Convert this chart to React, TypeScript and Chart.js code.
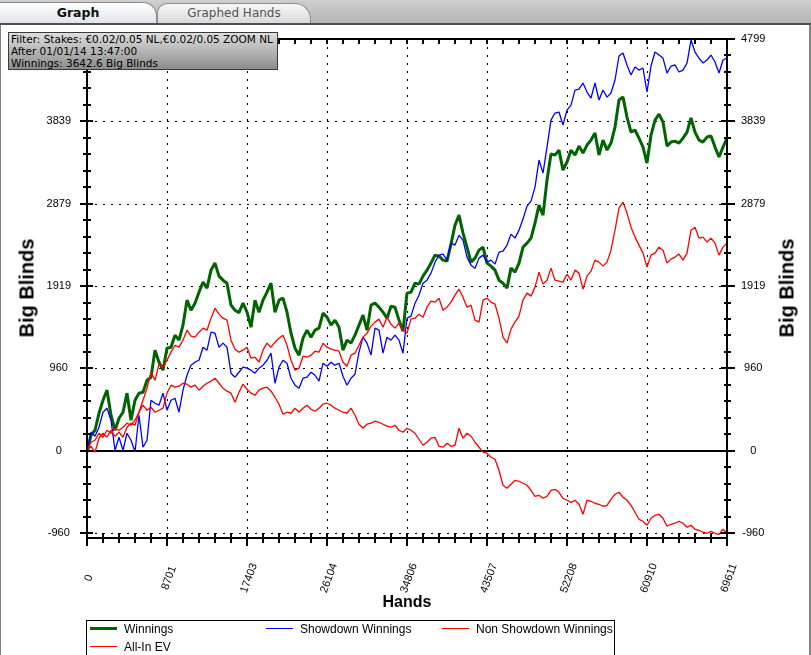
import React, { useEffect, useRef } from 'react';
import { Chart, registerables } from 'chart.js';

Chart.register(...registerables);

// ---- data (hands on x, big blinds on y) ----
const hands = [
  0, 435, 870, 1305, 1740, 2175, 2610, 3045, 3481, 3916,
  4351, 4786, 5221, 5656, 6091, 6526, 6961, 7396, 7831, 8266,
  8701, 9136, 9571, 10006, 10441, 10876, 11311, 11746, 12182, 12617,
  13052, 13487, 13922, 14357, 14792, 15227, 15662, 16097, 16532, 16967,
  17403, 17838, 18273, 18708, 19143, 19578, 20013, 20448, 20884, 21319,
  21754, 22189, 22624, 23059, 23494, 23929, 24364, 24799, 25234, 25669,
  26104, 26539, 26974, 27409, 27844, 28279, 28714, 29149, 29585, 30020,
  30455, 30890, 31325, 31760, 32195, 32630, 33065, 33500, 33935, 34370,
  34806, 35241, 35676, 36111, 36546, 36981, 37416, 37851, 38287, 38722,
  39157, 39592, 40027, 40462, 40897, 41332, 41767, 42202, 42637, 43072,
  43507, 43942, 44377, 44812, 45247, 45682, 46117, 46552, 46988, 47423,
  47858, 48293, 48728, 49163, 49598, 50033, 50468, 50903, 51338, 51773,
  52208, 52643, 53078, 53513, 53948, 54383, 54818, 55253, 55689, 56124,
  56559, 56994, 57429, 57864, 58299, 58734, 59169, 59604, 60039, 60474,
  60910, 61345, 61780, 62215, 62650, 63085, 63520, 63955, 64391, 64826,
  65261, 65696, 66131, 66566, 67001, 67436, 67871, 68306, 68741, 69176,
  69611,
];

const winnings = [
  -17, 181, 239, 437, 589, 706, 414, 239, 379, 449,
  671, 356, 589, 671, 682, 822, 857, 1172, 1032, 939,
  1195, 1207, 1347, 1289, 1464, 1755, 1638, 1720, 1848, 1965,
  1895, 2105, 2187, 2035, 1988, 1953, 1697, 1638, 1610, 1720,
  1615, 1440, 1755, 1615, 1755, 1848, 1953, 1615, 1755, 1778,
  1615, 1370, 1195, 1114, 1312, 1405, 1324, 1405, 1429, 1604,
  1557, 1464, 1522, 1440, 1172, 1289, 1254, 1347, 1464, 1580,
  1405, 1697, 1720, 1673, 1615, 1545, 1685, 1673, 1522, 1394,
  1837, 1848, 1953, 1942, 2035, 2105, 2187, 2280, 2268, 2222,
  2210, 2408, 2630, 2746, 2536, 2373, 2198, 2245, 2338, 2373,
  2187, 2152, 2105, 1988, 1953, 1895, 2128, 2082, 2187, 2373,
  2420, 2478, 2653, 2863, 2746, 3155, 3458, 3446, 3504, 3271,
  3365, 3504, 3446, 3551, 3469, 3563, 3621, 3703, 3446, 3621,
  3504, 3586, 3773, 4088, 4122, 3889, 3714, 3738, 3644, 3539,
  3353, 3679, 3854, 3924, 3831, 3551, 3598, 3609, 3586, 3644,
  3714, 3878, 3714, 3621, 3598, 3656, 3668, 3539, 3423, 3539,
  3643,
];

const showdownWinnings = [
  0, 216, 169, 274, 449, 496, 356, 6, 157, 6,
  204, 122, -12, 414, 41, 122, 589, 554, 531, 671,
  472, 589, 612, 449, 706, 880, 997, 1032, 1055, 1207,
  1172, 1382, 1370, 1207, 1254, 1207, 904, 857, 915, 974,
  962, 939, 904, 962, 997, 1055, 1137, 787, 974, 1055,
  1020, 845, 764, 729, 845, 857, 915, 880, 811, 1020,
  985, 1032, 997, 1020, 869, 764, 845, 892, 1149, 1324,
  1254, 1114, 1429, 1405, 1137, 1324, 1289, 1347, 1289, 1137,
  1545, 1569, 1720, 1813, 1953, 1988, 2070, 2198, 2280, 2292,
  2222, 2420, 2397, 2513, 2455, 2257, 2163, 2128, 2245, 2280,
  2198, 2222, 2175, 2315, 2327, 2397, 2525, 2478, 2571, 2700,
  2851, 2910, 3073, 3388, 3236, 3539, 3854, 3936, 3948, 3796,
  3971, 4029, 4204, 4216, 4286, 4181, 4111, 4286, 4088, 4204,
  4122, 4169, 4321, 4601, 4636, 4496, 4379, 4472, 4437, 4461,
  4181, 4484, 4647, 4612, 4577, 4402, 4484, 4496, 4414, 4437,
  4519, 4787, 4647, 4577, 4519, 4554, 4612, 4531, 4402, 4554,
  4577,
];

const nonShowdownWinnings = [
  0, 99, 122, 204, 157, 239, 204, 262, 239, 274,
  321, 297, 356, 449, 531, 472, 507, 449, 472, 496,
  671, 764, 741, 752, 787, 776, 741, 764, 706, 752,
  787, 811, 845, 787, 729, 694, 671, 566, 682, 776,
  717, 671, 647, 706, 729, 741, 694, 624, 542, 426,
  449, 437, 496, 449, 496, 531, 484, 461, 496, 542,
  554, 531, 496, 472, 449, 437, 496, 414, 309, 262,
  309, 321, 344, 332, 309, 286, 274, 297, 239, 216,
  262, 239, 204, 134, 64, 99, 146, 157, 52, 41,
  87, 52, 64, 262, 146, 204, 169, 99, 41, -17,
  -29, -76, -99, -227, -402, -437, -391, -344, -356, -379,
  -402, -461, -531, -519, -554, -531, -461, -449, -484, -554,
  -577, -601, -577, -624, -741, -577, -589, -612, -624, -647,
  -636, -566, -507, -484, -542, -577, -636, -717, -799, -822,
  -869, -787, -752, -741, -787, -880, -857, -845, -822, -845,
  -892, -869, -915, -927, -950, -962, -939, -962, -974, -915,
  -962,
];

const allInEV = [
  0, 52, -17, 146, 204, 157, 239, 169, 216, 157,
  274, 321, 297, 449, 589, 729, 915, 822, 1009, 974,
  1055, 1149, 1230, 1207, 1289, 1405, 1335, 1324, 1382, 1429,
  1405, 1545, 1662, 1592, 1545, 1522, 1289, 1184, 1149, 1172,
  1207, 1079, 1090, 1032, 1172, 1254, 1207, 1265, 1312, 1347,
  1230, 1055, 939, 962, 1102, 1090, 1114, 1160, 1149, 1254,
  1207, 1184, 1172, 1160, 1032, 985, 1114, 1137, 1230, 1324,
  1370, 1452, 1499, 1534, 1440, 1557, 1475, 1429, 1487, 1405,
  1370, 1534, 1545, 1592, 1557, 1673, 1743, 1732, 1778, 1638,
  1673, 1732, 1813, 1883, 1790, 1673, 1697, 1522, 1499, 1755,
  1778, 1732, 1708, 1545, 1324, 1254, 1417, 1499, 1569, 1755,
  1837, 1802, 1907, 2082, 1942, 1988, 2128, 1988, 1977, 1965,
  2058, 1988, 2105, 2070, 1883, 2035, 2093, 2222, 2198, 2152,
  2198, 2338, 2571, 2828, 2898, 2770, 2606, 2490, 2397, 2303,
  2140, 2280, 2303, 2373, 2338, 2187, 2233, 2257, 2292, 2222,
  2303, 2571, 2606, 2478, 2490, 2432, 2478, 2420, 2280, 2373,
  2420,
];

const xTickValues = [0, 8701.375, 17402.75, 26104.125, 34805.5, 43506.875, 52208.25, 60909.625, 69611];
const xTickLabels = ['0', '8701', '17403', '26104', '34806', '43507', '52208', '60910', '69611'];
const yTickValues = [-959.8, 0, 959.8, 1919.6, 2879.4, 3839.2, 4799];
const yTickLabels = ['-960', '0', '960', '1919', '2879', '3839', '4799'];
const xMin = 0;
const xMax = 69611;
const yMin = -1017;
const yMax = 4799;

const seriesLabels = ['Winnings', 'Showdown Winnings', 'Non Showdown Winnings', 'All-In EV'];
const seriesColors = ['#006400', '#0000ff', '#ff0000', '#ff0000'];
const seriesWidths = [3, 1.3, 1.3, 1.3];
const seriesValues = [winnings, showdownWinnings, nonShowdownWinnings, allInEV];
const seriesOrder = [4, 3, 2, 1];

const filterLines = [
  'Filter: Stakes: €0.02/0.05 NL,€0.02/0.05 ZOOM NL',
  'After 01/01/14 13:47:00',
  'Winnings: 3642.6 Big Blinds',
];

const SANS = '"Liberation Sans", Arial, sans-serif';
const TAHOMA = '"DejaVu Sans", Verdana, sans-serif';

const framePlugin = {
  id: 'frameAndTicks',
  beforeDatasetsDraw(chart: any) {
    const { ctx, chartArea: a } = chart;
    const xs = chart.scales.x;
    const ys = chart.scales.y;
    ctx.save();
    ctx.strokeStyle = '#000';
    ctx.lineWidth = 1;
    ctx.setLineDash([2, 6]);
    xTickValues.forEach((v) => {
      const px = Math.round(xs.getPixelForValue(v)) + 0.5;
      if (px <= a.left + 2 || px >= a.right - 2) return;
      ctx.beginPath();
      ctx.moveTo(px, a.top);
      ctx.lineTo(px, a.bottom);
      ctx.stroke();
    });
    yTickValues.forEach((v) => {
      if (v === 0) return;
      const py = Math.round(ys.getPixelForValue(v)) + 0.5;
      if (py <= a.top + 2) return;
      ctx.beginPath();
      ctx.moveTo(a.left, py);
      ctx.lineTo(a.right, py);
      ctx.stroke();
    });
    ctx.setLineDash([]);
    const zy = Math.round(ys.getPixelForValue(0));
    ctx.lineWidth = 2;
    ctx.beginPath();
    ctx.moveTo(a.left, zy);
    ctx.lineTo(a.right, zy);
    ctx.stroke();
    ctx.restore();
  },
  afterDatasetsDraw(chart: any) {
    const { ctx, chartArea: a } = chart;
    const xs = chart.scales.x;
    const ys = chart.scales.y;
    ctx.save();
    ctx.strokeStyle = '#000';
    ctx.lineWidth = 2;
    const seg = (x1: number, y1: number, x2: number, y2: number) => {
      ctx.beginPath();
      ctx.moveTo(x1, y1);
      ctx.lineTo(x2, y2);
      ctx.stroke();
    };
    const L = Math.round(a.left), R = Math.round(a.right), T = Math.round(a.top), B = Math.round(a.bottom);
    seg(L, T, R, T);
    seg(L, B, R, B);
    seg(L, T, L, B);
    seg(R, T, R, B);
    for (let i = 0; i < yTickValues.length; i++) {
      const v = yTickValues[i];
      const py = Math.round(ys.getPixelForValue(v));
      seg(L - 7, py, L + 6, py);
      seg(R - 6, py, R + 8, py);
      if (i < yTickValues.length - 1) {
        const step = (yTickValues[i + 1] - v) / 5;
        for (let j = 1; j < 5; j++) {
          const my = Math.round(ys.getPixelForValue(v + step * j));
          seg(L - 4, my, L + 4, my);
          seg(R - 3, my, R + 4, my);
        }
      }
    }
    for (let i = 0; i < xTickValues.length; i++) {
      const v = xTickValues[i];
      const px = Math.round(xs.getPixelForValue(v));
      seg(px, B - 5, px, B + 8);
      seg(px, T, px, T + 5);
      if (i < xTickValues.length - 1) {
        const step = (xTickValues[i + 1] - v) / 5;
        for (let j = 1; j < 5; j++) {
          const mx = Math.round(xs.getPixelForValue(v + step * j));
          seg(mx, B - 5, mx, B + 5);
          seg(mx, T, mx, T + 5);
        }
      }
    }
    ctx.restore();
  },
  afterDraw(chart: any) {
    const { ctx } = chart;
    const xs = chart.scales.x;
    ctx.save();
    ctx.fillStyle = '#000';
    ctx.font = '11px ' + SANS;
    ctx.textAlign = 'center';
    ctx.textBaseline = 'middle';
    xTickValues.forEach((v, i) => {
      const px = xs.getPixelForValue(v);
      ctx.save();
      ctx.translate(px + 2, 578);
      ctx.rotate((-70 * Math.PI) / 180);
      ctx.fillText(xTickLabels[i], 0, 0);
      ctx.restore();
    });
    ctx.restore();
  },
};

function yScale(position: 'left' | 'right', width: number, padding: number) {
  return {
    type: 'linear',
    position,
    min: yMin,
    max: yMax,
    bounds: 'data',
    afterBuildTicks: (s: any) => {
      s.ticks = yTickValues.map((v) => ({ value: v }));
    },
    afterFit: (s: any) => {
      s.width = width;
    },
    grid: { display: false, drawTicks: false },
    border: { display: false },
    ticks: {
      autoSkip: false,
      callback: (_v: any, i: number) => yTickLabels[i],
      font: { family: SANS, size: 11 },
      color: '#000',
      crossAlign: 'center',
      padding,
    },
  };
}

function ChartCanvas() {
  const ref = useRef<HTMLCanvasElement | null>(null);
  useEffect(() => {
    if (!ref.current) return;
    const chart = new Chart(ref.current, {
      type: 'line',
      data: {
        datasets: seriesValues.map((vals, s) => ({
          label: seriesLabels[s],
          data: hands.map((h, i) => ({ x: h, y: vals[i] })),
          borderColor: seriesColors[s],
          backgroundColor: seriesColors[s],
          borderWidth: seriesWidths[s],
          pointRadius: 0,
          tension: 0,
          order: seriesOrder[s],
          yAxisID: 'y',
        })),
      },
      options: {
        responsive: false,
        maintainAspectRatio: false,
        animation: false,
        devicePixelRatio: 1,
        layout: { padding: { top: 39, bottom: 117, left: 0, right: 0 } },
        elements: { line: { borderJoinStyle: 'bevel' }, point: { radius: 0 } },
        plugins: { legend: { display: false }, tooltip: { enabled: false } },
        scales: {
          x: { type: 'linear', min: xMin, max: xMax, display: false },
          y: yScale('left', 87, 16),
          y2: yScale('right', 84, 14),
        },
      } as any,
      plugins: [framePlugin],
    });
    return () => chart.destroy();
  }, []);
  return (
    <canvas
      ref={ref}
      width={811}
      height={655}
      style={{ position: 'absolute', left: 0, top: 0, width: 811, height: 655 }}
    />
  );
}

export default function App() {
  const abs: React.CSSProperties = { position: 'absolute' };
  return (
    <div style={{ ...abs, left: 0, top: 0, width: 811, height: 655, background: '#fff', overflow: 'hidden' }}>
      <div style={{ ...abs, left: 0, top: 0, width: 811, height: 24, background: 'linear-gradient(#cfcfcf, #b3b3b3)' }} />
      <div
        style={{
          ...abs, left: 157, top: 3, width: 152, height: 20,
          background: 'linear-gradient(#f7f7f7, #d6d8db)', border: '1px solid #8c8c8c', borderBottom: 'none',
          borderRadius: '10px 16px 0 0', font: '12px ' + TAHOMA, color: '#555',
          textAlign: 'center', lineHeight: '19px', whiteSpace: 'nowrap',
        }}
      >
        Graphed Hands
      </div>
      <div
        style={{
          ...abs, left: -1, top: 2, width: 156, height: 21,
          background: 'linear-gradient(#ffffff, #dfe3e8)', border: '1px solid #8c8c8c', borderBottom: 'none',
          borderRadius: '0 14px 0 0', font: 'bold 12.5px ' + TAHOMA, color: '#111',
          textAlign: 'center', lineHeight: '20px', whiteSpace: 'nowrap',
        }}
      >
        Graph
      </div>
      <div style={{ ...abs, left: 0, top: 23, width: 811, height: 2, background: '#505050' }} />
      <div style={{ ...abs, left: 0, top: 25, width: 1, height: 630, background: '#808080' }} />
      <div style={{ ...abs, left: 809, top: 25, width: 2, height: 630, background: '#808080' }} />

      <ChartCanvas />

      <div
        style={{
          ...abs, left: 8, top: 32, width: 266, height: 36,
          border: '1px solid #3a3a3a', background: 'linear-gradient(#dedede, #8c8c8c)',
          font: '10.5px ' + TAHOMA, color: '#000', lineHeight: '12px', padding: '0 0 0 2px', whiteSpace: 'nowrap',
        }}
      >
        {filterLines.map((t, i) => (
          <div key={i}>{t}</div>
        ))}
      </div>

      <div style={{ ...abs, left: 27, top: 288, transform: 'translate(-50%, -50%) rotate(-90deg)', font: 'bold 20px ' + SANS, whiteSpace: 'nowrap', color: '#000' }}>
        Big Blinds
      </div>
      <div style={{ ...abs, left: 787, top: 288, transform: 'translate(-50%, -50%) rotate(-90deg)', font: 'bold 20px ' + SANS, whiteSpace: 'nowrap', color: '#000' }}>
        Big Blinds
      </div>
      <div style={{ ...abs, left: 407, top: 602, transform: 'translate(-50%, -50%)', font: 'bold 16px ' + SANS, whiteSpace: 'nowrap', color: '#000' }}>
        Hands
      </div>

      <div style={{ ...abs, left: 86, top: 620, width: 527, height: 34, border: '1px solid #000', font: '12px ' + SANS, color: '#000' }}>
        {seriesLabels.map((lbl, s) => {
          const col = s < 3 ? s : 0;
          const row = s < 3 ? 0 : 1;
          const left = 3 + col * 176;
          const top = row === 0 ? 8 : 26;
          return (
            <React.Fragment key={lbl}>
              <div style={{ ...abs, left, top: top - (s === 0 ? 2 : 1), width: 27, height: s === 0 ? 3 : 1, background: seriesColors[s] }} />
              <div style={{ ...abs, left: left + 34, top: top - 8, lineHeight: '16px', whiteSpace: 'nowrap' }}>{lbl}</div>
            </React.Fragment>
          );
        })}
      </div>
    </div>
  );
}
